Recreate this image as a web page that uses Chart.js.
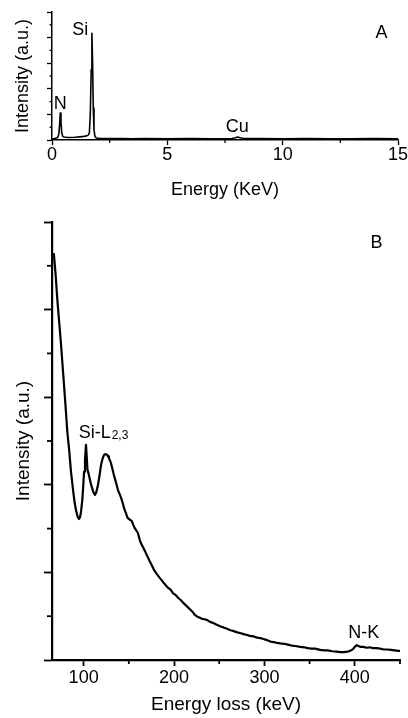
<!DOCTYPE html>
<html>
<head>
<meta charset="utf-8">
<script src="https://cdn.jsdelivr.net/npm/chart.js@4.4.0/dist/chart.umd.min.js"></script>
<style>
html,body{margin:0;padding:0;background:#fff;overflow:hidden;}
#a{position:absolute;left:0;top:0;}
#b{position:absolute;left:0;top:200px;}
</style>
</head>
<body>
<canvas id="a" width="408" height="205"></canvas>
<canvas id="b" width="408" height="518"></canvas>
<script>
// ---- Panel A: EDS spectrum ----
const edsEnergy = [0,0.1,0.2,0.26,0.3,0.33,0.36,0.39,0.42,0.46,0.52,0.7,1.0,1.3,1.5,1.58,1.62,1.66,1.70,1.73,1.76,1.79,1.82,1.86,1.92,2.1,2.5,3.0,3.5,4.0,5.0,6.0,7.0,7.8,7.95,8.05,8.15,8.3,9.0,10,11,12,13,14,15];
const edsCounts = [1.0,1.2,1.5,2.5,5,12,21,14,6,3,2.3,2.0,2.2,2.6,3.2,4.0,5.5,20,55,83.4,60,25,8,3,1.6,1.2,1.1,1.2,1.0,1.1,1.0,1.1,1.0,1.2,1.8,2.4,1.8,1.1,1.2,1.0,1.1,1.0,1.0,1.1,1.0];
const edsMajorX = [0,5,10,15];
const edsMinorX = [2.5,7.5,12.5];
const edsMajorY = [0,20,40,60,80,100];
const edsMinorY = [10,30,50,70,90];

// ---- Panel B: EELS spectrum ----
const eelsEnergy = [67,69,71,73,75,77.5,79.5,82,84,86,88.3,90,91.6,93.5,94.9,96,97.1,98.5,99.3,100.5,101.5,102.6,103.4,104.2,105.5,106.5,108,109.5,111,112.6,114,115.9,117.5,119.2,121,122.5,124,125.8,127,128,130.2,132,134,135.7,138,141.2,143,145,146.7,148.5,150,151.5,153.3,155,156.6,158.5,160,162,163.3,166,168,170.7,173,175,178,181,184,186,189,192,194,196.4,199,202,205,207.4,210,213,216,218.5,221,223,225.8,228,231,234,236.8,240,244,247.8,251,255,258,262.5,266,270,274,277,280.9,284,288,292,295.6,299,302,306.6,310,314,317.6,322,326,330,334,339.7,344,348,352,356,361.7,366,370,375,380,383.7,388,392,395,398,400,402.2,404,406,409.5,413,417,420,424.2,428,432,436,440,444,448,450];
const eelsCounts = [92.9,88,82,77,72,65,59.4,52,47.9,43,38.8,36,34.2,32.6,32.2,32.6,33.8,36.5,38.8,43,45.7,49.1,46.5,43.5,42.5,41.6,40.2,39.2,38.2,37.7,38.3,40.0,42,44.5,46,46.8,47.0,46.9,46.5,46.1,45.0,43.5,41.8,40.6,38.8,37.2,36,34.5,33.6,32.5,32.2,32.0,31.7,30.8,30.1,29.5,29.0,27.5,26.7,25.6,24.8,23.6,22.6,21.8,20.5,19.6,18.8,18.3,17.5,16.8,16.4,16.0,15.2,14.8,14.1,13.7,13.1,12.5,11.9,11.4,10.9,10.3,9.9,9.7,9.4,9.3,9.1,8.7,8.4,8.0,7.7,7.4,7.2,6.8,6.6,6.3,6.1,5.9,5.7,5.5,5.4,5.1,5.0,4.8,4.6,4.2,4.1,3.9,3.8,3.7,3.5,3.3,3.2,3.0,2.9,2.7,2.6,2.6,2.3,2.2,2.2,2.0,1.9,1.8,1.8,1.9,2.1,2.5,3.0,3.4,3.2,3.0,3.0,2.8,2.9,2.7,2.7,2.6,2.4,2.4,2.3,2.2,2.1,2.1];
const eelsMajorX = [100,200,300,400];
const eelsMinorX = [150,250,350,450];
const eelsMajorY = [0,20,40,60,80,100];
const eelsMinorY = [10,30,50,70,90];

const FAMILY = '"Liberation Sans", Arial, Helvetica, sans-serif';

const extras = {
  id: 'extras',
  afterDraw(chart, args, opts) {
    const ctx = chart.ctx;
    const xs = chart.scales.x, ys = chart.scales.y;
    ctx.save();
    ctx.strokeStyle = '#000';
    ctx.lineWidth = opts.tickWidth;
    opts.minorX.forEach(v => {
      const px = xs.getPixelForValue(v);
      ctx.beginPath(); ctx.moveTo(px, xs.top); ctx.lineTo(px, xs.top + opts.minorLenX); ctx.stroke();
    });
    opts.minorY.forEach(v => {
      const py = ys.getPixelForValue(v);
      ctx.beginPath(); ctx.moveTo(ys.right, py); ctx.lineTo(ys.right - opts.minorLenY, py); ctx.stroke();
    });
    ctx.fillStyle = '#000';
    ctx.textBaseline = 'middle';
    opts.labels.forEach(l => {
      ctx.font = (l.size || 18) + 'px ' + FAMILY;
      ctx.textAlign = l.align || 'center';
      const px = xs.getPixelForValue(l.x), py = ys.getPixelForValue(l.y);
      ctx.fillText(l.text, px, py);
      if (l.sub) {
        const w = ctx.measureText(l.text).width;
        ctx.font = l.subSize + 'px ' + FAMILY;
        ctx.textAlign = 'left';
        ctx.fillText(l.sub, px + w + 1, py + l.subShift);
      }
    });
    ctx.restore();
  }
};

function makeChart(id, xs, ys, cfg) {
  return new Chart(document.getElementById(id), {
    type: 'scatter',
    data: { datasets: [{
      data: xs.map((x, i) => ({ x: x, y: ys[i] })),
      showLine: true, borderColor: '#000', borderWidth: cfg.lineWidth,
      pointRadius: 0, tension: 0, fill: false, borderJoinStyle: 'round'
    }] },
    options: {
      responsive: false, animation: false, events: [],
      layout: { autoPadding: false, padding: cfg.padding },
      plugins: { legend: { display: false }, tooltip: { enabled: false }, extras: cfg.extras },
      scales: {
        x: {
          type: 'linear', min: cfg.xMin, max: cfg.xMax,
          afterBuildTicks: s => { s.ticks = cfg.majorX.map(v => ({ value: v })); },
          afterFit: s => { s.height = cfg.xHeight; },
          border: { display: true, color: '#000', width: cfg.axisWidth },
          grid: { drawOnChartArea: false, drawTicks: true, tickLength: cfg.majorLenX, tickWidth: cfg.tickWidth, tickColor: '#000', color: '#000' },
          ticks: { color: '#000', font: { family: FAMILY, size: cfg.tickSize }, padding: cfg.tickPad, maxRotation: 0, autoSkip: false },
          title: { display: true, text: cfg.xTitle, color: '#000', font: { family: FAMILY, size: cfg.titleSize }, padding: { top: 0, bottom: cfg.xTitlePad } }
        },
        y: {
          type: 'linear', min: 0, max: 100,
          afterBuildTicks: s => { s.ticks = cfg.majorY.map(v => ({ value: v })); },
          afterFit: s => { s.width = 52; },
          border: { display: true, color: '#000', width: cfg.axisWidth },
          grid: { drawOnChartArea: false, drawTicks: true, tickLength: cfg.majorLenY, tickWidth: cfg.tickWidth, tickColor: '#000', color: '#000' },
          ticks: { display: false },
          title: { display: true, text: 'Intensity (a.u.)', color: '#000', font: { family: FAMILY, size: cfg.titleSize }, padding: { top: cfg.yTitlePad, bottom: 0 } }
        }
      }
    },
    plugins: [extras]
  });
}

makeChart('a', edsEnergy, edsCounts, {
  lineWidth: 1.6, axisWidth: 1.5, tickWidth: 1.3,
  padding: { top: 12, right: 10, left: 0, bottom: 0 },
  xMin: 0, xMax: 15, majorX: edsMajorX, majorY: edsMajorY,
  xHeight: 65, majorLenX: 5, majorLenY: 5, tickSize: 18, tickPad: -1,
  titleSize: 18, xTitle: 'Energy (KeV)', xTitlePad: 4, yTitlePad: 12,
  extras: {
    tickWidth: 1.3, minorX: edsMinorX, minorY: edsMinorY, minorLenX: 3, minorLenY: 2.5,
    labels: [
      { text: 'Si', x: 1.22, y: 85.9 },
      { text: 'N', x: 0.36, y: 28.1 },
      { text: 'Cu', x: 8.03, y: 10.4 },
      { text: 'A', x: 14.28, y: 83.4 }
    ]
  }
});

makeChart('b', eelsEnergy, eelsCounts, {
  lineWidth: 2.2, axisWidth: 2.2, tickWidth: 1.8,
  padding: { top: 22, right: 8, left: 0, bottom: 0 },
  xMin: 65, xMax: 450, majorX: eelsMajorX, majorY: eelsMajorY,
  xHeight: 58, majorLenX: 6, majorLenY: 8, tickSize: 18, tickPad: 1,
  titleSize: 19, xTitle: 'Energy loss (keV)', xTitlePad: 2, yTitlePad: 12,
  extras: {
    tickWidth: 1.8, minorX: eelsMinorX, minorY: eelsMinorY, minorLenX: 4, minorLenY: 5,
    labels: [
      { text: 'B', x: 424, y: 95.1 },
      { text: 'Si-L', x: 94.5, y: 51.8, align: 'left', sub: '2,3', subSize: 12, subShift: 3 },
      { text: 'N-K', x: 410, y: 6.2 }
    ]
  }
});
</script>
</body>
</html>
